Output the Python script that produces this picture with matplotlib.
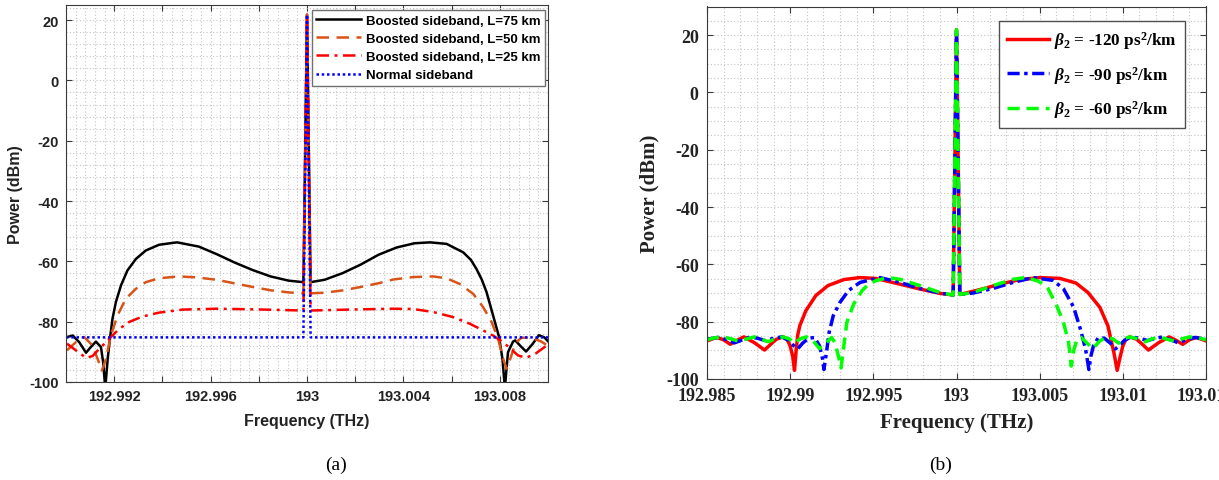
import matplotlib
matplotlib.use("Agg")
import matplotlib.pyplot as plt
from matplotlib.ticker import FixedLocator, FixedFormatter, MultipleLocator

# ---------------- data: panel (a) ----------------
fa_black = [192.99004, 192.99028, 192.99055, 192.99083, 192.99103, 192.99124, 192.99145, 192.99154,
            192.99163, 192.99173, 192.99183, 192.99193, 192.99207, 192.99228, 192.99255, 192.99290,
            192.99331, 192.99386, 192.99441, 192.99461, 192.99551, 192.99625, 192.99700, 192.99775,
            192.99849, 192.99924, 192.99985, 193.00000, 193.00015, 193.00073, 193.00148, 193.00222,
            193.00297, 193.00372, 193.00446, 193.00510, 193.00579, 193.00648, 193.00680, 193.00703,
            193.00725, 193.00745, 193.00772, 193.00797, 193.00811, 193.00821, 193.00834, 193.00855,
            193.00864, 193.00885, 193.00909, 193.00935, 193.00962, 193.00985, 193.01000]
pa_black = [-85.1, -84.6, -86.8, -90.3, -88.4, -86.6, -88.4, -93.4,
            -102.0, -92.3, -85.1, -79.0, -73.5, -68.0, -63.0, -59.2,
            -56.4, -54.5, -53.9, -53.7, -55.1, -57.6, -60.4, -62.9,
            -65.0, -66.4, -66.9, 21.8, -66.9, -66.1, -63.9, -61.1,
            -57.8, -55.4, -54.0, -53.7, -54.2, -57.0, -59.5, -62.5,
            -66.0, -70.2, -77.9, -85.1, -92.3, -102.0, -90.1, -86.6,
            -86.2, -88.0, -89.9, -87.5, -84.5, -85.2, -86.5]

fa_orange = [192.99004, 192.99041, 192.99076, 192.99110, 192.99131, 192.99149, 192.99166, 192.99186,
             192.99214, 192.99248, 192.99290, 192.99331, 192.99386, 192.99469, 192.99540, 192.99625,
             192.99700, 192.99775, 192.99850, 192.99924, 192.99985, 193.00000, 193.00015, 193.00073,
             193.00150, 193.00222, 193.00300, 193.00359, 193.00441, 193.00524, 193.00579, 193.00634,
             193.00690, 193.00731, 193.00766, 193.00793, 193.00814, 193.00828, 193.00845, 193.00865,
             193.00890, 193.00930, 193.00970, 193.01000]
pa_orange = [-89.5, -86.8, -85.1, -87.9, -92.3, -96.2, -92.3, -84.6,
             -77.9, -72.4, -69.1, -66.9, -65.6, -65.0, -65.3, -66.1,
             -67.3, -68.5, -69.6, -70.3, -70.6, 21.8, -70.6, -70.4,
             -69.6, -68.5, -67.2, -66.0, -65.2, -65.0, -65.6, -67.5,
             -70.8, -75.2, -80.1, -85.7, -92.3, -95.6, -92.0, -87.0,
             -85.3, -85.4, -86.5, -88.0]

fa_red = [192.99004, 192.99041, 192.99083, 192.99110, 192.99138, 192.99166, 192.99186, 192.99221,
          192.99262, 192.99317, 192.99386, 192.99483, 192.99625, 192.99775, 192.99985, 193.00000,
          193.00015, 193.00222, 193.00359, 193.00441, 193.00524, 193.00607, 193.00676, 193.00731,
          193.00772, 193.00814, 193.00876, 193.00909, 193.00950, 193.01000]
pa_red = [-87.3, -89.5, -92.0, -91.4, -89.0, -86.8, -85.1, -82.4,
          -80.1, -78.3, -77.0, -76.0, -75.7, -75.9, -76.3, 21.8,
          -76.3, -75.9, -75.7, -75.8, -76.8, -78.5, -80.7, -82.9,
          -84.6, -86.8, -91.2, -92.0, -90.5, -87.6]

fa_normal = [192.990, 192.99985, 193.00000, 193.00015, 193.010]
pa_normal = [-85.2, -85.2, 21.8, -85.2, -85.2]

labels_a = ["Boosted sideband, L=75 km", "Boosted sideband, L=50 km",
            "Boosted sideband, L=25 km", "Normal sideband"]
xticks_a = [192.992, 192.994, 192.996, 192.998, 193.000, 193.002, 193.004, 193.006, 193.008]
xticklabels_a = ["192.992", "", "192.996", "", "193", "", "193.004", "", "193.008"]
yticks_a = [-100, -80, -60, -40, -20, 0, 20]
yticklabels_a = ["-100", "-80", "-60", "-40", "-20", "0", "20"]

# ---------------- data: panel (b) ----------------
fb_red = [192.98500, 192.98558, 192.98600, 192.98640, 192.98680, 192.98722, 192.98784, 192.98846,
          192.98890, 192.98918, 192.98959, 192.98985, 192.99000, 192.99015, 192.99026, 192.99036,
          192.99046, 192.99058, 192.99094, 192.99154, 192.99227, 192.99323, 192.99419, 192.99515,
          192.99659, 192.99780, 192.99900, 192.99980, 193.00000, 193.00020, 193.00141, 193.00261,
          193.00381, 193.00501, 193.00622, 193.00718, 193.00790, 193.00862, 193.00910, 193.00946,
          193.00966, 193.00985, 193.01000, 193.01015, 193.01041, 193.01082, 193.01110, 193.01154,
          193.01216, 193.01278, 193.01320, 193.01360, 193.01400, 193.01442, 193.01500]
pb_red = [-86.7, -85.5, -86.3, -87.9, -86.5, -85.3, -87.3, -89.9,
          -87.5, -86.1, -85.3, -86.5, -88.5, -92.0, -97.0, -90.0,
          -84.5, -81.4, -76.2, -70.9, -67.4, -65.3, -64.6, -64.9,
          -66.9, -68.6, -70.1, -70.7, 21.9, -70.5, -68.8, -66.9,
          -65.3, -64.6, -64.9, -66.5, -69.8, -75.0, -81.4, -90.7,
          -97.0, -92.0, -88.5, -86.5, -85.3, -86.1, -87.5, -89.9,
          -87.3, -85.3, -86.5, -87.9, -86.3, -85.5, -86.7]

fb_blue = [192.98500, 192.98568, 192.98620, 192.98665, 192.98710, 192.98760, 192.98805, 192.98850,
           192.98900, 192.98950, 192.98990, 192.99020, 192.99045, 192.99075, 192.99110, 192.99147,
           192.99177, 192.99195, 192.99203, 192.99218, 192.99234, 192.99259, 192.99300, 192.99351,
           192.99420, 192.99539, 192.99660, 192.99780, 192.99900, 192.99980, 193.00000, 193.00020,
           193.00100, 193.00220, 193.00340, 193.00460, 193.00580, 193.00643, 193.00704, 193.00745,
           193.00776, 193.00796, 193.00808, 193.00823, 193.00853, 193.00890, 193.00925, 193.00955,
           193.00980, 193.01010, 193.01050, 193.01100, 193.01150, 193.01195, 193.01240, 193.01290,
           193.01335, 193.01380, 193.01432, 193.01500]
pb_blue = [-86.1, -85.5, -86.3, -87.4, -86.4, -85.3, -85.8, -86.6,
           -85.8, -85.3, -86.5, -88.3, -89.5, -87.5, -85.8, -85.5,
           -88.5, -93.0, -96.7, -90.8, -83.8, -77.9, -73.2, -69.1,
           -66.3, -64.6, -66.3, -68.4, -70.0, -70.7, 21.9, -70.5,
           -70.0, -68.4, -66.3, -64.6, -65.6, -68.5, -74.9, -82.6,
           -89.6, -96.7, -92.0, -88.5, -85.5, -85.8, -87.5, -89.5,
           -88.3, -86.5, -85.3, -85.8, -86.6, -85.8, -85.3, -86.4,
           -87.4, -86.3, -85.5, -86.1]

fb_green = [192.98500, 192.98550, 192.98599, 192.98645, 192.98690, 192.98740, 192.98784, 192.98825,
            192.98866, 192.98910, 192.98959, 192.98995, 192.99025, 192.99060, 192.99096, 192.99140,
            192.99177, 192.99215, 192.99249, 192.99269, 192.99290, 192.99306, 192.99320, 192.99341,
            192.99382, 192.99433, 192.99470, 192.99515, 192.99587, 192.99660, 192.99780, 192.99900,
            192.99980, 193.00000, 193.00020, 193.00100, 193.00220, 193.00340, 193.00413, 193.00485,
            193.00520, 193.00551, 193.00602, 193.00643, 193.00674, 193.00690, 193.00705, 193.00725,
            193.00750, 193.00785, 193.00820, 193.00860, 193.00904, 193.00940, 193.00975, 193.01005,
            193.01041, 193.01090, 193.01134, 193.01175, 193.01216, 193.01260, 193.01310, 193.01355,
            193.01401, 193.01450, 193.01500]
pb_green = [-86.3, -85.6, -85.3, -86.0, -86.8, -86.0, -85.3, -86.0,
            -87.0, -86.0, -85.3, -86.0, -87.5, -86.0, -85.3, -86.8,
            -89.4, -87.5, -85.5, -87.3, -92.0, -96.1, -89.6, -80.2,
            -73.8, -69.1, -67.0, -65.7, -64.6, -65.2, -67.4, -69.8,
            -70.7, 21.9, -70.5, -69.8, -67.4, -65.2, -64.6, -65.7,
            -66.8, -68.5, -74.4, -80.2, -87.3, -95.5, -90.0, -86.1,
            -85.5, -87.5, -89.4, -86.8, -85.3, -86.0, -87.5, -86.0,
            -85.3, -86.0, -87.0, -86.0, -85.3, -86.0, -86.8, -86.0,
            -85.3, -85.6, -86.3]

labels_b = [r"$\beta_\mathrm{2}$ = -120 ps$^\mathrm{2}$/km",
            r"$\beta_\mathrm{2}$ = -90 ps$^\mathrm{2}$/km",
            r"$\beta_\mathrm{2}$ = -60 ps$^\mathrm{2}$/km"]
xticks_b = [192.985, 192.990, 192.995, 193.000, 193.005, 193.010, 193.015]
xticklabels_b = ["192.985", "192.99", "192.995", "193", "193.005", "193.01", "193.015"]
yticks_b = [-100, -80, -60, -40, -20, 0, 20]
yticklabels_b = ["-100", "-80", "-60", "-40", "-20", "0", "20"]

# ---------------- styling ----------------
plt.rcParams["mathtext.fontset"] = "custom"
plt.rcParams["mathtext.rm"] = "Liberation Serif:bold"
plt.rcParams["mathtext.it"] = "Liberation Serif:italic:bold"
plt.rcParams["mathtext.bf"] = "Liberation Serif:bold"

W, H = 1219, 481
fig = plt.figure(figsize=(W / 100, H / 100), dpi=100)

def frac(l, r, t, b):
    return [l / W, 1 - b / H, (r - l) / W, (b - t) / H]

AX_COL = "#3a3a3a"

def style_axes(ax, xmin, xmax, ymin, ymax, xt, xtl, yt, ytl, xminor, yminor,
               family, tsize, tpad):
    ax.set_xlim(xmin, xmax)
    ax.set_ylim(ymin, ymax)
    ax.xaxis.set_major_locator(FixedLocator(xt))
    ax.xaxis.set_major_formatter(FixedFormatter(xtl))
    ax.yaxis.set_major_locator(FixedLocator(yt))
    ax.yaxis.set_major_formatter(FixedFormatter(ytl))
    ax.xaxis.set_minor_locator(MultipleLocator(xminor))
    ax.yaxis.set_minor_locator(MultipleLocator(yminor))
    ax.grid(which="both", linestyle=(0, (1, 2)), color="#c4c4c4", linewidth=0.8)
    ax.set_axisbelow(True)
    ax.tick_params(which="major", direction="in", top=True, right=True, length=4,
                   width=0.8, color=AX_COL, labelcolor="#222222", labelsize=tsize, pad=tpad)
    ax.tick_params(which="minor", length=0)
    for lab in ax.get_xticklabels() + ax.get_yticklabels():
        lab.set_fontfamily(family)
        lab.set_fontweight("bold")
    for s in ax.spines.values():
        s.set_color(AX_COL)
        s.set_linewidth(0.8)

# ---------------- panel (a) ----------------
axa = fig.add_axes(frac(66, 548, 6, 383))
style_axes(axa, 192.990, 193.010, -100, 25, xticks_a, xticklabels_a, yticks_a, yticklabels_a,
           0.0004, 4, "Liberation Sans", 10.5, 5)
axa.plot(fa_black, pa_black, color="black", lw=1.8, label=labels_a[0])
axa.plot(fa_orange, pa_orange, color="#D95319", lw=1.8, linestyle=(0, (5, 3)), label=labels_a[1])
axa.plot(fa_red, pa_red, color="#FF0000", lw=1.8, linestyle=(0, (5, 2.2, 1.2, 2.2)), label=labels_a[2])
axa.plot(fa_normal, pa_normal, color="#0000FF", lw=1.8, linestyle=(0, (1, 1.1)), label=labels_a[3])
axa.set_xlabel("Frequency (THz)", fontfamily="Liberation Sans", fontweight="bold",
               fontsize=11.5, color="#222222", va="center")
axa.set_ylabel("Power (dBm)", fontfamily="Liberation Sans", fontweight="bold",
               fontsize=11.5, color="#222222", va="center")
axa.xaxis.set_label_coords(0.5, -0.103)
axa.yaxis.set_label_coords(-0.104, 0.5)
lega = axa.legend(loc="upper right", bbox_to_anchor=(0.994, 0.987), borderaxespad=0,
                  prop={"family": "Liberation Sans", "weight": "bold", "size": 9.5},
                  handlelength=3.4, handletextpad=0.35, labelspacing=0.45,
                  borderpad=0.35, fancybox=False, framealpha=1)
lega.get_frame().set_edgecolor("#707070")
lega.get_frame().set_linewidth(1.0)

# ---------------- panel (b) ----------------
axb = fig.add_axes(frac(707, 1206, 7.5, 380))
style_axes(axb, 192.985, 193.015, -100, 30, xticks_b, xticklabels_b, yticks_b, yticklabels_b,
           0.001, 5, "Liberation Serif", 13, 6)
axb.plot(fb_red, pb_red, color="#FF0000", lw=2.5, label=labels_b[0])
axb.plot(fb_blue, pb_blue, color="#0000FF", lw=2.5, linestyle=(0, (3.5, 1.3, 1, 1.3)), label=labels_b[1])
axb.plot(fb_green, pb_green, color="#00FF00", lw=2.5, linestyle=(0, (3.5, 2)), label=labels_b[2])
axb.set_xlabel("Frequency (THz)", fontfamily="Liberation Serif", fontweight="bold",
               fontsize=15, color="#222222", va="center")
axb.set_ylabel("Power (dBm)", fontfamily="Liberation Serif", fontweight="bold",
               fontsize=15, color="#222222", va="center")
axb.xaxis.set_label_coords(0.5, -0.115)
axb.yaxis.set_label_coords(-0.115, 0.5)
legb = axb.legend(loc="upper right", bbox_to_anchor=(0.9575, 0.96), borderaxespad=0,
                  prop={"family": "Liberation Serif", "weight": "bold", "size": 12.3},
                  handlelength=2.5, handletextpad=0.3, labelspacing=0.75,
                  borderpad=0.45, fancybox=False, framealpha=1)
legb.get_frame().set_edgecolor("#505050")
legb.get_frame().set_linewidth(1.0)

# ---------------- captions ----------------
fig.text(336 / W, 1 - 465 / H, "(a)", ha="center", va="center",
         fontfamily="Liberation Serif", fontsize=14)
fig.text(941 / W, 1 - 465 / H, "(b)", ha="center", va="center",
         fontfamily="Liberation Serif", fontsize=14)

fig.savefig("out.png", dpi=100, facecolor="white")
